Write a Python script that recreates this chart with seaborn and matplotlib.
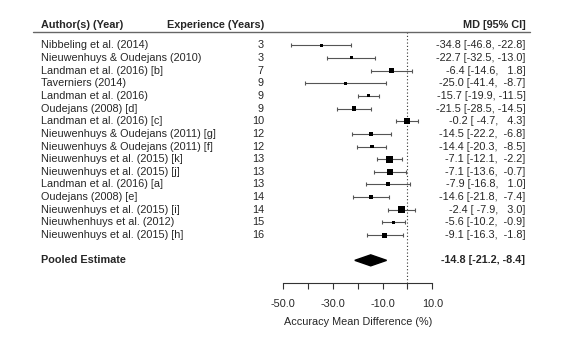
import matplotlib
matplotlib.use("Agg")
import matplotlib.pyplot as plt
import seaborn as sns
import numpy as np
import pandas as pd
from matplotlib.ticker import FixedLocator, FixedFormatter

# ---------------- data ----------------
authors = [
    "Nibbeling et al. (2014)",
    "Nieuwenhuys & Oudejans (2010)",
    "Landman et al. (2016) [b]",
    "Taverniers (2014)",
    "Landman et al. (2016)",
    "Oudejans (2008) [d]",
    "Landman et al. (2016) [c]",
    "Nieuwenhuys & Oudejans (2011) [g]",
    "Nieuwenhuys & Oudejans (2011) [f]",
    "Nieuwenhuys et al. (2015) [k]",
    "Nieuwenhuys et al. (2015) [j]",
    "Landman et al. (2016) [a]",
    "Oudejans (2008) [e]",
    "Nieuwenhuys et al. (2015) [i]",
    "Nieuwhenhuys et al. (2012)",
    "Nieuwenhuys et al. (2015) [h]",
]
experience = [3, 3, 7, 9, 9, 9, 10, 12, 12, 13, 13, 13, 14, 14, 15, 16]
md = [-34.8, -22.7, -6.4, -25.0, -15.7, -21.5, -0.2, -14.5, -14.4, -7.1, -7.1, -7.9, -14.6, -2.4, -5.6, -9.1]
ci_lo = [-46.8, -32.5, -14.6, -41.4, -19.9, -28.5, -4.7, -22.2, -20.3, -12.1, -13.6, -16.8, -21.8, -7.9, -10.2, -16.3]
ci_hi = [-22.8, -13.0, 1.8, -8.7, -11.5, -14.5, 4.3, -6.8, -8.5, -2.2, -0.7, 1.0, -7.4, 3.0, -0.9, -1.8]
weights = [3.0, 3.0, 4.5, 2.7, 3.0, 4.3, 6.0, 4.0, 3.8, 7.0, 5.5, 4.0, 3.8, 6.7, 2.7, 5.0]

pooled_label = "Pooled Estimate"
pooled_md, pooled_lo, pooled_hi = -14.8, -21.2, -8.4

xticks = [-50, -40, -30, -20, -10, 0, 10]
xtick_labels = ["-50.0", "", "-30.0", "", "-10.0", "", "10.0"]
xlabel = "Accuracy Mean Difference (%)"
headers = ["Author(s) (Year)", "Experience (Years)", "MD [95% CI]"]

# ---------------- style ----------------
sns.set_theme(style="white")
plt.rcParams["font.family"] = ["Liberation Sans", "DejaVu Sans"]
FS = 7.8

W, H = 575, 339
fig = plt.figure(figsize=(W / 100, H / 100), dpi=100)
ax = fig.add_axes([283.3 / W, 0, 149.0 / W, 1])
ax.set_xlim(-50, 10)
row_px0, row_step = 45.3, 12.65
ax.set_ylim((H - row_px0) / row_step, -row_px0 / row_step)
ax.set_facecolor("none")

n = len(authors)
rows = np.arange(n)
df = pd.DataFrame({"row": rows, "md": md, "lo": ci_lo, "hi": ci_hi, "w": weights})

# error bars
ax.errorbar(df["md"], df["row"],
            xerr=[df["md"] - df["lo"], df["hi"] - df["md"]],
            fmt="none", ecolor="#555555", elinewidth=0.8, capsize=1.6,
            capthick=0.8, clip_on=False, zorder=2)

# squares
sizes = (np.array(weights) / (100 / 72)) ** 2
sns.scatterplot(data=df, x="md", y="row", marker="s", color="black",
                s=sizes, linewidth=0, ax=ax, zorder=3, clip_on=False, legend=False)

pooled_row = n + 1
axis_row = (283.3 - row_px0) / row_step
hh = 5.5 / row_step
ax.fill([pooled_lo, pooled_md, pooled_hi, pooled_md],
        [pooled_row, pooled_row - hh, pooled_row, pooled_row + hh],
        color="black", zorder=3, clip_on=False)

header_line_row = (32.3 - row_px0) / row_step
ax.vlines(0, header_line_row, axis_row, colors="#333333", linestyles=(0, (1, 2)),
          linewidth=0.8, zorder=1)

# columns
def px2x(px):
    return (px - 407.0) / 2.483

x_name = px2x(41)
x_exp = px2x(263.5)
x_md = px2x(525)
for i in range(n):
    ax.text(x_name, i, authors[i], ha="left", va="center", fontsize=FS, clip_on=False)
    ax.text(x_exp, i, str(experience[i]), ha="right", va="center", fontsize=FS, clip_on=False)
    s = f"{md[i]:.1f} [{ci_lo[i]:5.1f}, {ci_hi[i]:5.1f}]"
    ax.text(x_md, i, s, ha="right", va="center", fontsize=FS, clip_on=False)

ax.text(x_name, pooled_row, pooled_label, ha="left", va="center", fontsize=FS,
        fontweight="bold", clip_on=False)
ax.text(x_md, pooled_row, f"{pooled_md:.1f} [{pooled_lo:.1f}, {pooled_hi:.1f}]",
        ha="right", va="center", fontsize=FS, fontweight="bold", clip_on=False)

header_row = (25.0 - row_px0) / row_step
ax.text(x_name, header_row, headers[0], ha="left", va="center", fontsize=FS,
        fontweight="bold", clip_on=False)
ax.text(x_exp, header_row, headers[1], ha="right", va="center", fontsize=FS,
        fontweight="bold", clip_on=False)
ax.text(x_md, header_row, headers[2], ha="right", va="center", fontsize=FS,
        fontweight="bold", clip_on=False)
ax.plot([px2x(33), px2x(530)], [header_line_row, header_line_row],
        color="#666666", linewidth=1.0, clip_on=False)

# axis
for sp in ["left", "right", "top"]:
    ax.spines[sp].set_visible(False)
ax.spines["bottom"].set_position(("data", axis_row))
ax.spines["bottom"].set_bounds(-50, 10)
ax.spines["bottom"].set_color("#333333")
ax.spines["bottom"].set_linewidth(0.8)
ax.xaxis.set_major_locator(FixedLocator(xticks))
ax.xaxis.set_major_formatter(FixedFormatter(xtick_labels))
ax.tick_params(axis="x", direction="out", length=4.5, width=0.8, color="#333333",
               labelsize=FS, pad=7, bottom=True)
ax.set_yticks([])
ax.set_xlabel("")
ax.set_ylabel("")
ax.text(-20, (321.7 - row_px0) / row_step, xlabel, ha="center", va="center",
        fontsize=FS, clip_on=False)

fig.savefig("out.png", dpi=100)
